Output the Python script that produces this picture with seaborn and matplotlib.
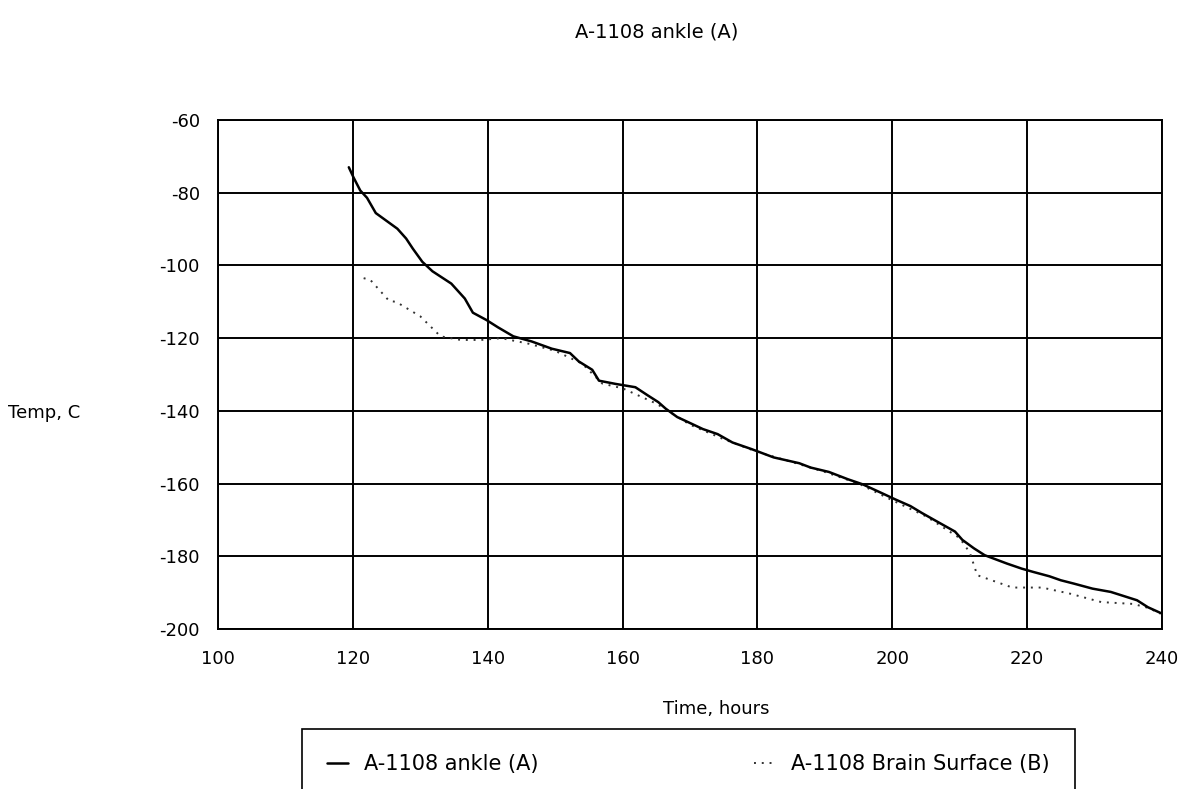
import numpy as np
import pandas as pd
import matplotlib
matplotlib.use("Agg")
import matplotlib.pyplot as plt
import seaborn as sns

# ankle thermocouple (A)
ankle_time = [119.4, 120.1, 121.1, 122.1, 123.4, 126.6, 127.9, 128.9, 130.3, 131.8,
              134.6, 136.6, 137.8, 139.8, 141.5, 143.8, 146.5, 149.5, 152.2, 153.5,
              155.5, 156.5, 159.0, 161.9, 163.7, 165.3, 166.4, 168.1, 170.3, 171.9,
              174.1, 176.3, 179.1, 182.4, 186.2, 187.9, 190.6, 193.4, 195.6, 198.3,
              200.5, 202.7, 204.4, 206.6, 209.3, 210.4, 212.1, 213.7, 217.0, 219.2,
              220.9, 223.3, 225.0, 226.9, 229.7, 232.4, 234.1, 236.3, 237.9, 239.8]
ankle_temp = [-73.0, -75.8, -79.4, -81.4, -85.6, -89.9, -92.6, -95.4, -99.0, -101.6,
              -105.0, -109.1, -113.0, -115.0, -117.0, -119.5, -120.9, -122.9, -124.1, -126.4,
              -128.7, -131.7, -132.6, -133.5, -135.7, -137.6, -139.4, -141.7, -143.6, -145.0,
              -146.4, -148.7, -150.5, -152.8, -154.4, -155.6, -156.8, -158.8, -160.2, -162.5,
              -164.4, -166.2, -168.1, -170.4, -173.2, -175.5, -177.8, -179.7, -182.0, -183.4,
              -184.3, -185.5, -186.6, -187.5, -188.9, -189.8, -190.8, -192.1, -194.0, -195.6]

# brain surface thermocouple (B)
brain_time = [121.6, 122.6, 125.4, 126.4, 130.0, 133.0, 136.0, 139.0, 142.0, 146.0,
              150.0, 154.0, 157.0, 160.0, 165.0, 170.0, 175.0, 180.0, 185.0, 190.0,
              195.0, 200.0, 205.0, 210.0, 211.5, 212.6, 217.8, 222.2, 226.4, 231.0,
              235.7, 238.0, 239.8]
brain_temp = [-103.5, -104.0, -109.8, -110.0, -114.0, -119.5, -120.5, -120.5, -120.0, -121.5,
              -123.5, -127.0, -132.5, -133.8, -138.0, -143.8, -147.8, -151.3, -154.0, -156.8,
              -160.0, -164.6, -169.0, -175.0, -179.0, -185.2, -188.6, -188.6, -190.3, -192.6,
              -193.1, -194.2, -195.8]

x_ticks = [100, 120, 140, 160, 180, 200, 220, 240]
y_ticks = [-60, -80, -100, -120, -140, -160, -180, -200]

sns.set_style("white")
plt.rcParams['font.family'] = ['DejaVu Sans']
plt.rcParams['axes.unicode_minus'] = False
plt.rcParams['text.color'] = 'black'
plt.rcParams['axes.labelcolor'] = 'black'
plt.rcParams['xtick.color'] = 'black'
plt.rcParams['ytick.color'] = 'black'

fig = plt.figure(figsize=(11.89, 7.89), dpi=100)
ax = fig.add_axes([218 / 1189, 1 - 629 / 789, 944 / 1189, 509 / 789])

ankle = pd.DataFrame({'time': ankle_time, 'temp': ankle_temp})
brain = pd.DataFrame({'time': brain_time, 'temp': brain_temp})

sns.lineplot(data=brain, x='time', y='temp', ax=ax, sort=False, color='#333333',
             linestyle=(0, (1, 3)), linewidth=1.4, label='A-1108 Brain Surface (B)')
sns.lineplot(data=ankle, x='time', y='temp', ax=ax, sort=False, color='black',
             linewidth=1.8, label='A-1108 ankle (A)')

ax.set_xlim(100, 240)
ax.set_ylim(-200, -60)
ax.set_xticks(x_ticks)
ax.set_yticks(y_ticks)
ax.grid(True, color='black', linewidth=1.4)
for s in ax.spines.values():
    s.set_color('black')
    s.set_linewidth(1.4)
ax.tick_params(axis='both', labelsize=13, length=3, width=1.2, color='black',
               labelcolor='black', direction='out')
ax.tick_params(axis='x', pad=12)
ax.tick_params(axis='y', pad=10)

ax.set_xlabel('Time, hours', fontsize=13)
ax.xaxis.set_label_coords(0.5275, -0.14)
ax.set_ylabel('Temp, C', fontsize=13, rotation=0, ha='left', va='center')
ax.yaxis.set_label_coords(-0.222, 0.425)

fig.text(657 / 1189, 1 - 32 / 789, 'A-1108 ankle (A)', fontsize=14, ha='center', va='center')

handles, labels = ax.get_legend_handles_labels()
ax.get_legend().remove()
order = [1, 0]
leg = fig.legend([handles[i] for i in order], [labels[i] for i in order],
                 loc='upper left', bbox_to_anchor=(302 / 1189, 1 - 729 / 789, 773 / 1189, 0.0),
                 mode='expand', ncol=2, fontsize=15, frameon=True, fancybox=False,
                 edgecolor='black', handlelength=1.0, borderpad=1.2, borderaxespad=0)
leg.get_frame().set_linewidth(1.2)
leg.get_frame().set_alpha(1)

fig.savefig('out.png', dpi=100)
